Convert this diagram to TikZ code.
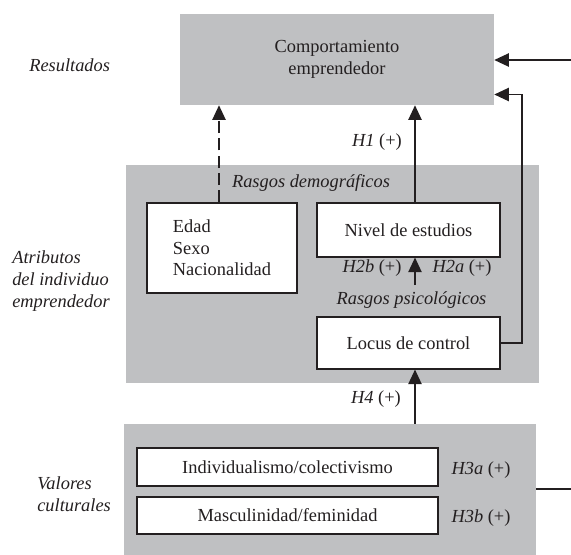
\documentclass[tikz,border=0pt]{standalone}
\usepackage{fontspec}
\setmainfont{Liberation Serif}
\usepackage{tikz}
\usetikzlibrary{arrows.meta, positioning, calc}
\definecolor{Panel}{HTML}{BFC0C2}
\definecolor{Ink}{HTML}{231F20}
\newlength\pxu
\setlength\pxu{0.75pt}

\begin{document}
\begin{tikzpicture}[x=\pxu, y=-\pxu,
          panel/.style={rectangle, fill=Panel, draw=none, inner sep=0pt},
          wbox/.style={rectangle, draw=Ink, fill=white, line width=0.8pt, inner sep=0pt,
                        font=\fontsize{13.8}{16.2}\selectfont, text=Ink},
          lbl/.style={font=\fontsize{13.8}{16.2}\selectfont\itshape, text=Ink, inner sep=0pt},
          hyp/.style={font=\fontsize{13.8}{16.2}\selectfont, text=Ink, inner sep=0pt},
          arr/.style={-{Triangle[length=11pt, width=10pt]}, line width=1.1pt, color=Ink},
          lnk/.style={line width=1.1pt, color=Ink}
        ]
          \useasboundingbox (0,0) rectangle (571,554);
          % panels
          \node[panel, minimum width=314\pxu, minimum height=91\pxu, align=center,
                font=\fontsize{13.8}{16.2}\selectfont, text=Ink] (res) at (337,59.5) {Comportamiento\\emprendedor};
          \node[panel, minimum width=413\pxu, minimum height=218\pxu] (atr) at (332.5,274) {};
          \node[panel, minimum width=412\pxu, minimum height=132\pxu] (val) at (330,490) {};
          % boxes
          \node[wbox, minimum width=150\pxu, minimum height=90\pxu, align=left] (dem) at (222,248) {Edad\\Sexo\\Nacionalidad};
          \node[wbox, minimum width=183\pxu, minimum height=54\pxu] (est) at (408.5,230) {Nivel de estudios};
          \node[wbox, minimum width=183\pxu, minimum height=52\pxu] (loc) at (408.5,343) {Locus de control};
          \node[wbox, minimum width=301\pxu, minimum height=38\pxu] (ind) at (287.5,467) {Individualismo/colectivismo};
          \node[wbox, minimum width=301\pxu, minimum height=37\pxu] (mas) at (287.5,515.5) {Masculinidad/feminidad};
          % side labels
          \node[lbl, anchor=west] (lres) at (29,65) {Resultados};
          \node[lbl, anchor=west, align=left] (latr) at (12,281) {Atributos\\del individuo\\emprendedor};
          \node[lbl, anchor=west, align=left] (lval) at (37,494) {Valores\\culturales};
          \node[lbl] (rdem) at (311,183) {Rasgos demogr\'aficos};
          \node[lbl] (rpsi) at (411.5,300) {Rasgos psicol\'ogicos};
          % hypotheses
          \node[hyp] (h1) at (377,142) {\textit{H1} (+)};
          \node[hyp] (h2b) at (372,268) {\textit{H2b} (+)};
          \node[hyp] (h2a) at (462,268) {\textit{H2a} (+)};
          \node[hyp] (h4) at (376,399) {\textit{H4} (+)};
          \node[hyp] (h3a) at (481,470) {\textit{H3a} (+)};
          \node[hyp] (h3b) at (481,518) {\textit{H3b} (+)};
          % helpers
          \coordinate (ax) at (415,0);
          \coordinate (dx) at (219,0);
          \coordinate (rx) at (522,0);
          \coordinate (in1) at (571,60);
          \coordinate (out1) at (571,489);
          \coordinate (h2s) at (415,285);
          % connectors
          \draw[arr, dashed, dash pattern=on 9pt off 4pt] (dem.north -| dx) -- (res.south -| dx);
          \draw[arr] (est.north -| ax) -- (res.south -| ax);
          \draw[arr] (h2s) -- (est.south -| ax);
          \draw[arr] (val.north -| ax) -- (loc.south -| ax);
          \draw[arr] (in1) -- (in1 -| res.east);
          \draw[arr] (loc.east) -- (loc.east -| rx) |- ($(res.east)+(0,35)$);
          \draw[lnk] (out1 -| val.east) -- (out1);
        \end{tikzpicture}
\end{document}
